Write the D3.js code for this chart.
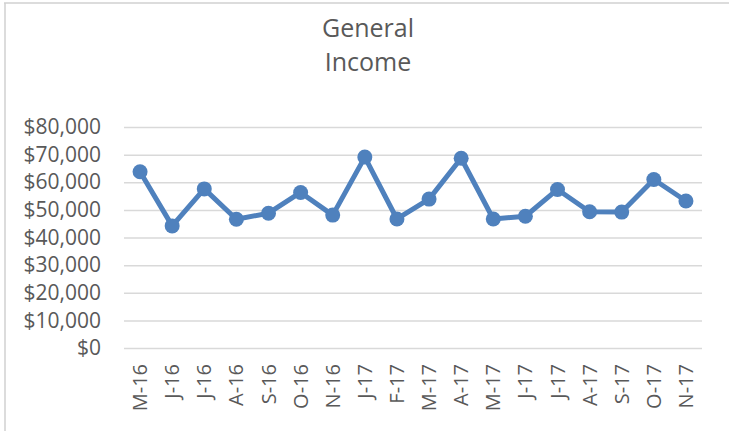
<!DOCTYPE html>
<html>
<head>
<meta charset="utf-8">
<script src="https://cdn.jsdelivr.net/npm/d3@7"></script>
<style>
  html, body { margin: 0; padding: 0; background: #fff; }
  svg { display: block; }
</style>
</head>
<body>
<svg id="chart" width="729" height="431"></svg>
<script>
// Monthly general income
const months = ["M-16", "J-16", "J-16", "A-16", "S-16", "O-16", "N-16", "J-17", "F-17",
                "M-17", "A-17", "M-17", "J-17", "J-17", "A-17", "S-17", "O-17", "N-17"];
const income = [63800, 44200, 57600, 46600, 48800, 56300, 48100, 69100, 46700,
                53900, 68700, 46700, 47700, 57400, 49300, 49200, 61000, 53200];
const yTicks = [0, 10000, 20000, 30000, 40000, 50000, 60000, 70000, 80000];
const titleLines = ["General", "Income"];

const W = 729, H = 431;
const plot = { left: 124, right: 702, top: 127, bottom: 348 };
const textColor = "#595959";
const lineColor = "#4f81bd";
const font = "'Open Sans', sans-serif";

const svg = d3.select("#chart");

// chart frame (top and left edges)
svg.append("line").attr("x1", 4).attr("x2", W).attr("y1", 3).attr("y2", 3)
  .attr("stroke", "#d0d0d0").attr("stroke-width", 1.5);
svg.append("line").attr("x1", 5).attr("x2", 5).attr("y1", 3).attr("y2", H)
  .attr("stroke", "#d0d0d0").attr("stroke-width", 1.5);

// title
svg.append("g").selectAll("text").data(titleLines).join("text")
  .attr("x", 368)
  .attr("y", (d, i) => 37 + i * 34)
  .attr("text-anchor", "middle")
  .attr("font-family", font)
  .attr("font-size", 25)
  .attr("fill", textColor)
  .text(d => d);

const x = d3.scaleBand()
  .domain(d3.range(months.length))
  .range([plot.left, plot.right]);

const y = d3.scaleLinear()
  .domain([0, 80000])
  .range([plot.bottom, plot.top]);

// horizontal gridlines + y labels
const yAxis = d3.axisLeft(y)
  .tickValues(yTicks)
  .tickSize(-(plot.right - plot.left))
  .tickPadding(23)
  .tickFormat(d => "$" + d3.format(",")(d));

const gy = svg.append("g")
  .attr("transform", `translate(${plot.left},0)`)
  .call(yAxis);
gy.select(".domain").remove();
gy.selectAll(".tick line").attr("stroke", "#d9d9d9").attr("stroke-width", 1.5);
gy.selectAll(".tick text")
  .attr("font-family", font)
  .attr("font-size", 21)
  .attr("fill", textColor);

// x category labels, rotated
const xAxis = d3.axisBottom(x)
  .tickSize(0)
  .tickPadding(0)
  .tickFormat(i => months[i]);

const gx = svg.append("g")
  .attr("transform", `translate(0,${plot.bottom})`)
  .call(xAxis);
gx.select(".domain").remove();
gx.selectAll(".tick text")
  .attr("font-family", font)
  .attr("font-size", 20)
  .attr("fill", textColor)
  .attr("transform", "rotate(-90)")
  .attr("text-anchor", "end")
  .attr("x", -16)
  .attr("y", 0)
  .attr("dy", "0.35em");

// income line
const line = d3.line()
  .x((d, i) => x(i) + x.bandwidth() / 2)
  .y(d => y(d));

svg.append("path")
  .datum(income)
  .attr("d", line)
  .attr("fill", "none")
  .attr("stroke", lineColor)
  .attr("stroke-width", 5)
  .attr("stroke-linejoin", "round");

svg.append("g").selectAll("circle").data(income).join("circle")
  .attr("cx", (d, i) => x(i) + x.bandwidth() / 2)
  .attr("cy", d => y(d))
  .attr("r", 7.5)
  .attr("fill", lineColor);
</script>
</body>
</html>
